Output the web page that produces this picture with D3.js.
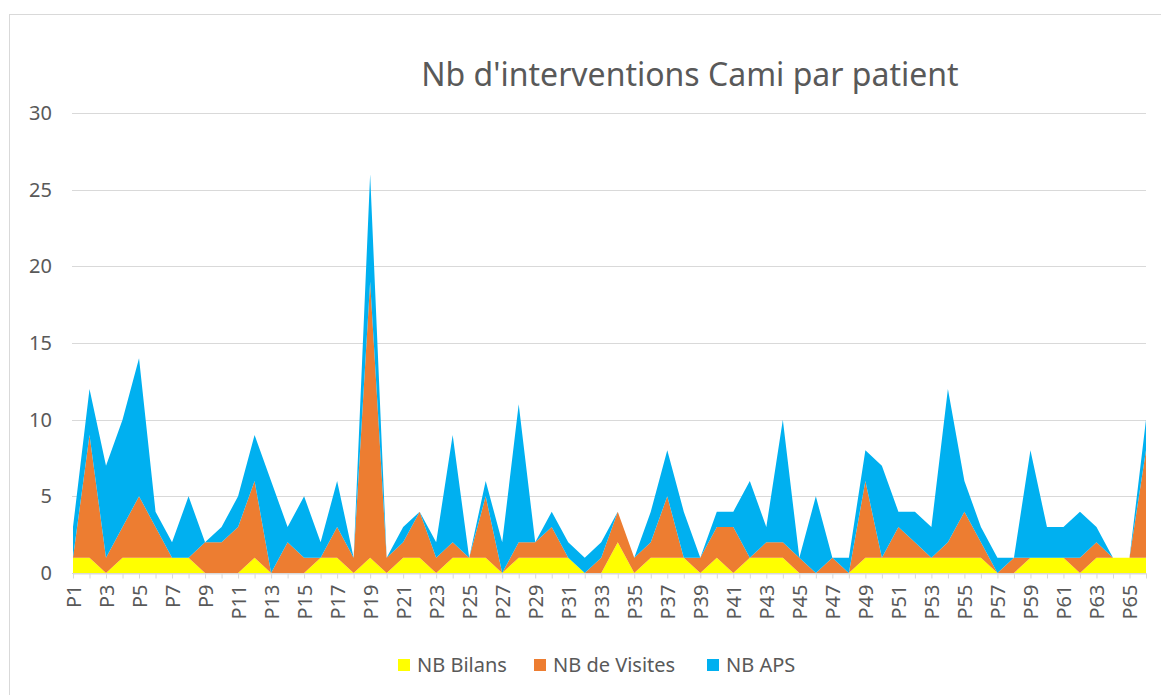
<!DOCTYPE html>
<html>
<head>
<meta charset="utf-8">
<title>Nb d'interventions Cami par patient</title>
<script src="https://d3js.org/d3.v7.min.js"></script>
<style>
body {margin:0; background-color:#ffffff;}
svg text {font-family:'Noto Sans','Open Sans',sans-serif; fill:#595959;}
</style>
</head>
<body>
<svg id="chart" width="1161" height="695"></svg>

<script>
// data
var patients = []
for (var p = 1; p <= 66; p++) patients.push('P' + p)

var bilans  = [1,1,0,1,1,1,1,1,0,0, 0,1,0,0,0,1,1,0,1,0, 1,1,0,1,1,1,0,1,1,1, 1,0,0,2,0,1,1,1,0,1, 0,1,1,1,0,0,0,0,1,1, 1,1,1,1,1,1,0,0,1,1, 1,0,1,1,1,1]
var visites = [0,8,1,2,4,2,0,0,2,2, 3,5,0,2,1,0,2,1,18,1, 1,3,1,1,0,4,0,1,1,2, 0,0,1,2,1,1,4,0,1,2, 3,0,1,1,1,0,1,0,5,0, 2,1,0,1,3,1,0,1,0,0, 0,1,1,0,0,7]
var aps     = [2,3,6,7,9,1,1,4,0,1, 2,3,6,1,4,1,3,0,7,0, 1,0,1,7,0,1,2,9,0,1, 1,1,1,0,0,2,3,3,0,1, 1,5,1,8,0,5,0,1,2,6, 1,2,2,10,2,1,1,0,7,2, 2,3,1,0,0,2]

var seriesNames = ['NB Bilans','NB de Visites','NB APS']
var colors = ['#ffff00','#ed7d31','#00b0f0']
var yTicks = [0,5,10,15,20,25,30]

var plotLeft = 73
var plotRight = 1146
var plotTop = 113
var plotBottom = 573

var svg = d3.select('#chart')

// outer frame
svg.append('rect')
    .attr('x',9.5)
    .attr('y',14.5)
    .attr('width',1160)
    .attr('height',700)
    .attr('fill','none')
    .attr('stroke','#d9d9d9')

//scales
var x = d3.scalePoint().domain(patients).range([plotLeft,plotRight])
var y = d3.scaleLinear().domain([0,30]).range([plotBottom,plotTop])

//grid lines + y labels
svg.append('g')
    .selectAll('line')
    .data(yTicks)
    .enter()
    .append('line')
      .attr('x1',plotLeft-1)
      .attr('x2',plotRight)
      .attr('y1',function(d) {return Math.round(y(d))+0.5})
      .attr('y2',function(d) {return Math.round(y(d))+0.5})
      .attr('stroke','#d9d9d9')
      .attr('stroke-width',1)

svg.append('g')
    .selectAll('text')
    .data(yTicks)
    .enter()
    .append('text')
      .attr('x',52)
      .attr('y',function(d) {return y(d)})
      .attr('dy','0.35em')
      .attr('text-anchor','end')
      .style('font-size','20px')
      .text(function(d) {return d})

//stack the three series
var table = patients.map(function(name,i) {
    return {name:name, 'NB Bilans':bilans[i], 'NB de Visites':visites[i], 'NB APS':aps[i]}
})
var stacked = d3.stack().keys(seriesNames)(table)

var area = d3.area()
    .x(function(d) {return x(d.data.name)})
    .y0(function(d) {return y(d[0])})
    .y1(function(d) {return y(d[1])})

svg.append('g')
    .selectAll('path')
    .data(stacked)
    .enter()
    .append('path')
      .attr('d',area)
      .attr('fill',function(d,i) {return colors[i]})

//x axis
var xAxis = svg.append('g')
    .attr('transform','translate(0,'+(plotBottom+0.5)+')')
    .call(d3.axisBottom(x).tickSize(5).tickSizeOuter(0)
        .tickFormat(function(d,i) {return i % 2 == 0 ? d : ''}))
xAxis.select('.domain').attr('stroke','#d9d9d9')
xAxis.selectAll('.tick line').attr('stroke','#d9d9d9')
xAxis.selectAll('.tick text')
    .attr('transform','rotate(-90)')
    .attr('text-anchor','end')
    .attr('x',-11)
    .attr('y',0)
    .attr('dy','0.35em')
    .attr('font-family',null)
    .attr('font-size',null)
    .style('font-size','20px')
    .style('fill','#595959')

//title
svg.append('text')
    .attr('x',690)
    .attr('y',86)
    .attr('text-anchor','middle')
    .style('font-size','32px')
    .text("Nb d'interventions Cami par patient")

//legend
var legendX = [398,534,707]
var legend = svg.append('g')
    .selectAll('g')
    .data(seriesNames)
    .enter()
    .append('g')
      .attr('transform',function(d,i) {return 'translate('+legendX[i]+',659)'})
legend.append('rect')
    .attr('width',12)
    .attr('height',12)
    .attr('fill',function(d,i) {return colors[i]})
legend.append('text')
    .attr('x',19)
    .attr('y',6)
    .attr('dy','0.35em')
    .style('font-size','20px')
    .text(function(d) {return d})
</script>
</body>
</html>
